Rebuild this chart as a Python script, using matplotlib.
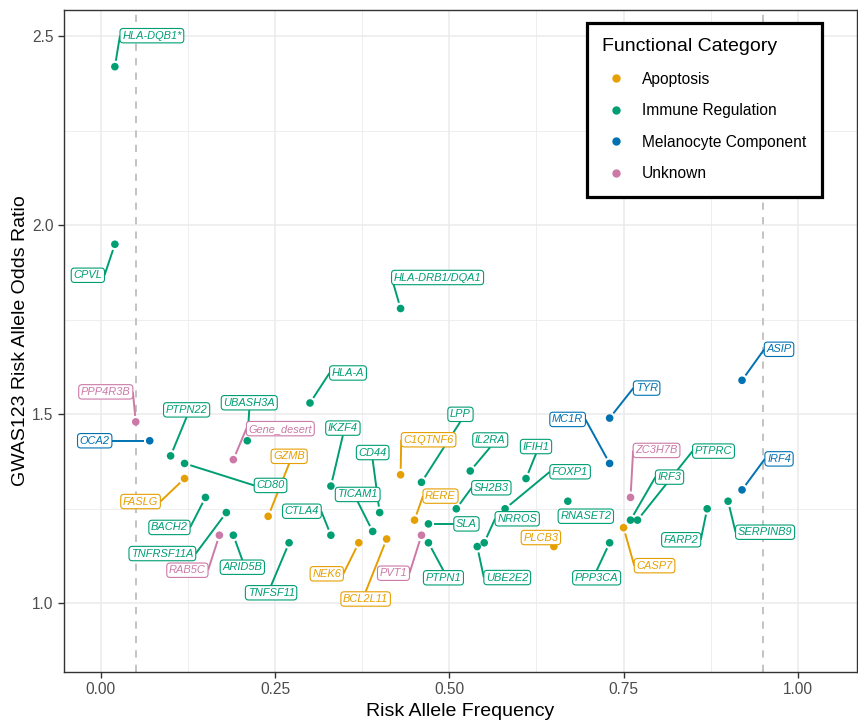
import matplotlib
matplotlib.use("Agg")
import matplotlib.pyplot as plt
from matplotlib.lines import Line2D
import numpy as np

plt.rcParams['font.family'] = ['Liberation Sans', 'DejaVu Sans']

# ---------------- data ----------------
genes = ["HLA-DQB1*", "CPVL", "HLA-DRB1/DQA1", "PPP4R3B", "OCA2", "PTPN22", "CD80",
         "FASLG", "BACH2", "TNFRSF11A", "RAB5C", "ARID5B", "UBASH3A", "Gene_desert",
         "GZMB", "TNFSF11", "HLA-A", "IKZF4", "CTLA4", "TICAM1", "CD44", "NEK6",
         "BCL2L11", "C1QTNF6", "LPP", "RERE", "SLA", "PVT1", "PTPN1", "IL2RA", "SH2B3",
         "IFIH1", "FOXP1", "NRROS", "UBE2E2", "RNASET2", "PLCB3", "MC1R", "TYR",
         "ZC3H7B", "IRF3", "PTPRC", "CASP7", "PPP3CA", "FARP2", "SERPINB9", "IRF4", "ASIP"]
raf = [0.02, 0.02, 0.43, 0.05, 0.07, 0.10, 0.12,
       0.12, 0.15, 0.18, 0.17, 0.19, 0.21, 0.19,
       0.24, 0.27, 0.30, 0.33, 0.33, 0.39, 0.40, 0.37,
       0.41, 0.43, 0.46, 0.45, 0.47, 0.46, 0.47, 0.53, 0.51,
       0.61, 0.58, 0.55, 0.54, 0.67, 0.65, 0.73, 0.73,
       0.76, 0.76, 0.77, 0.75, 0.73, 0.87, 0.90, 0.92, 0.92]
odds_ratio = [2.42, 1.95, 1.78, 1.48, 1.43, 1.39, 1.37,
              1.33, 1.28, 1.24, 1.18, 1.18, 1.43, 1.38,
              1.23, 1.16, 1.53, 1.31, 1.18, 1.19, 1.24, 1.16,
              1.17, 1.34, 1.32, 1.22, 1.21, 1.18, 1.16, 1.35, 1.25,
              1.33, 1.25, 1.16, 1.15, 1.27, 1.15, 1.37, 1.49,
              1.28, 1.22, 1.22, 1.20, 1.16, 1.25, 1.27, 1.30, 1.59]
category = ["Immune Regulation", "Immune Regulation", "Immune Regulation", "Unknown",
            "Melanocyte Component", "Immune Regulation", "Immune Regulation",
            "Apoptosis", "Immune Regulation", "Immune Regulation", "Unknown",
            "Immune Regulation", "Immune Regulation", "Unknown",
            "Apoptosis", "Immune Regulation", "Immune Regulation", "Immune Regulation",
            "Immune Regulation", "Immune Regulation", "Immune Regulation", "Apoptosis",
            "Apoptosis", "Apoptosis", "Immune Regulation", "Apoptosis", "Immune Regulation",
            "Unknown", "Immune Regulation", "Immune Regulation", "Immune Regulation",
            "Immune Regulation", "Immune Regulation", "Immune Regulation", "Immune Regulation",
            "Immune Regulation", "Apoptosis", "Melanocyte Component", "Melanocyte Component",
            "Unknown", "Immune Regulation", "Immune Regulation", "Apoptosis",
            "Immune Regulation", "Immune Regulation", "Immune Regulation",
            "Melanocyte Component", "Melanocyte Component"]

categories = ["Apoptosis", "Immune Regulation", "Melanocyte Component", "Unknown"]
palette = {"Apoptosis": "#E69F00", "Immune Regulation": "#009E73",
           "Melanocyte Component": "#0072B2", "Unknown": "#CC79A7"}

# label offsets in pixels (layout only)
label_offset = {
    "HLA-DQB1*": (37, 31), "CPVL": (-27, -31), "HLA-DRB1/DQA1": (37, 31),
    "PPP4R3B": (-30, 30), "OCA2": (-55, 0), "PTPN22": (16, 46), "CD80": (86, -22),
    "FASLG": (-44, -23), "BACH2": (-36, -30), "TNFRSF11A": (-64, -41),
    "RAB5C": (-32, -35), "ARID5B": (9, -32), "UBASH3A": (2, 38),
    "Gene_desert": (47, 31), "GZMB": (21, 60), "TNFSF11": (-18, -50),
    "HLA-A": (38, 30), "IKZF4": (12, 58), "CTLA4": (-29, 24), "TICAM1": (-15, 37),
    "CD44": (-7, 60), "NEK6": (-32, -31), "BCL2L11": (-21, -60),
    "C1QTNF6": (28, 35), "LPP": (39, 68), "RERE": (26, 24), "SLA": (38, 0),
    "PVT1": (-28, -38), "PTPN1": (15, -35), "IL2RA": (20, 31), "SH2B3": (35, 21),
    "IFIH1": (10, 32), "FOXP1": (65, 37), "NRROS": (33, 24), "UBE2E2": (30, -31),
    "RNASET2": (18, -15), "PLCB3": (-13, 9), "MC1R": (-42, 44), "TYR": (37, 30),
    "ZC3H7B": (26, 47), "IRF3": (39, 43), "PTPRC": (76, 69), "CASP7": (31, -38),
    "PPP3CA": (-13, -35), "FARP2": (-26, -31), "SERPINB9": (37, -31),
    "IRF4": (37, 31), "ASIP": (37, 31),
}

# ---------------- figure ----------------
W, H = 858, 723
fig = plt.figure(figsize=(W / 100, H / 100), dpi=100)
ax = fig.add_axes([64 / W, 1 - 672 / H, (857 - 64) / W, (672 - 10) / H])

ax.set_xlim(-0.053, 1.085)
ax.set_ylim(0.818, 2.570)

ax.set_xticks([0, 0.25, 0.5, 0.75, 1.0])
ax.set_xticks([0.125, 0.375, 0.625, 0.875], minor=True)
ax.set_yticks([1.0, 1.5, 2.0, 2.5])
ax.set_yticks([1.25, 1.75, 2.25], minor=True)
ax.set_xticklabels(["0.00", "0.25", "0.50", "0.75", "1.00"])
ax.set_yticklabels(["1.0", "1.5", "2.0", "2.5"])
ax.grid(which='major', color='#EBEBEB', lw=1.1, zorder=0)
ax.grid(which='minor', color='#EBEBEB', lw=0.6, zorder=0)
ax.set_axisbelow(True)
ax.tick_params(which='major', length=4, width=1, color='#333333',
               labelsize=11.2, labelcolor='#4D4D4D')
ax.tick_params(which='minor', length=0)
for s in ax.spines.values():
    s.set_color('#333333')
    s.set_linewidth(1.0)

ax.set_xlabel("Risk Allele Frequency", fontsize=14, labelpad=4)
ax.set_ylabel("GWAS123 Risk Allele Odds Ratio", fontsize=14, labelpad=2)

for xv in (0.05, 0.95):
    ax.axvline(xv, color='#BEBEBE', lw=1.3, ls=(0, (4, 4)), zorder=1)

colors = [palette[c] for c in category]
ax.scatter(raf, odds_ratio, s=30, c=colors, zorder=3, linewidths=0)

texts = []
for g, x, y, c in zip(genes, raf, odds_ratio, colors):
    dx, dy = label_offset[g]
    t = ax.annotate(g, xy=(x, y), xytext=(dx, dy), textcoords='offset pixels',
                    ha='center', va='center', fontsize=7.9, style='italic', color=c,
                    bbox=dict(boxstyle='round,pad=0.2,rounding_size=0.3', fc='white',
                              ec=c, lw=0.8),
                    zorder=5)
    texts.append(t)

# connector segments (ggrepel style: to nearest edge midpoint of label box)
fig.canvas.draw()
inv = ax.transData.inverted()
for t, x, y, c in zip(texts, raf, odds_ratio, colors):
    bb = t.get_bbox_patch().get_window_extent()
    p = ax.transData.transform((x, y))
    cands = np.array([[bb.x0, (bb.y0 + bb.y1) / 2], [bb.x1, (bb.y0 + bb.y1) / 2],
                      [(bb.x0 + bb.x1) / 2, bb.y0], [(bb.x0 + bb.x1) / 2, bb.y1]])
    d = np.hypot(cands[:, 0] - p[0], cands[:, 1] - p[1])
    k = int(np.argmin(d))
    end = cands[k]
    if d[k] < 22:
        continue
    u = (end - p) / d[k]
    start = p + u * 6
    seg = inv.transform(np.vstack([start, end]))
    ax.plot(seg[:, 0], seg[:, 1], color=c, lw=1.4, zorder=4, solid_capstyle='butt')

handles = [Line2D([0], [0], marker='o', ls='', color=palette[k], markersize=5)
           for k in categories]
leg = ax.legend(handles, categories, title="Functional Category",
                loc='upper right', bbox_to_anchor=(0.9555, 0.981),
                fontsize=11.2, title_fontsize=14, frameon=True, fancybox=False,
                borderpad=1.0, labelspacing=1.06, handletextpad=0.75,
                handlelength=1.8, borderaxespad=0)
leg._legend_box.align = "left"
leg.set_zorder(10)
fr = leg.get_frame()
fr.set_edgecolor('black')
fr.set_linewidth(2.3)
fr.set_alpha(1)

fig.savefig("out.png", dpi=100)
